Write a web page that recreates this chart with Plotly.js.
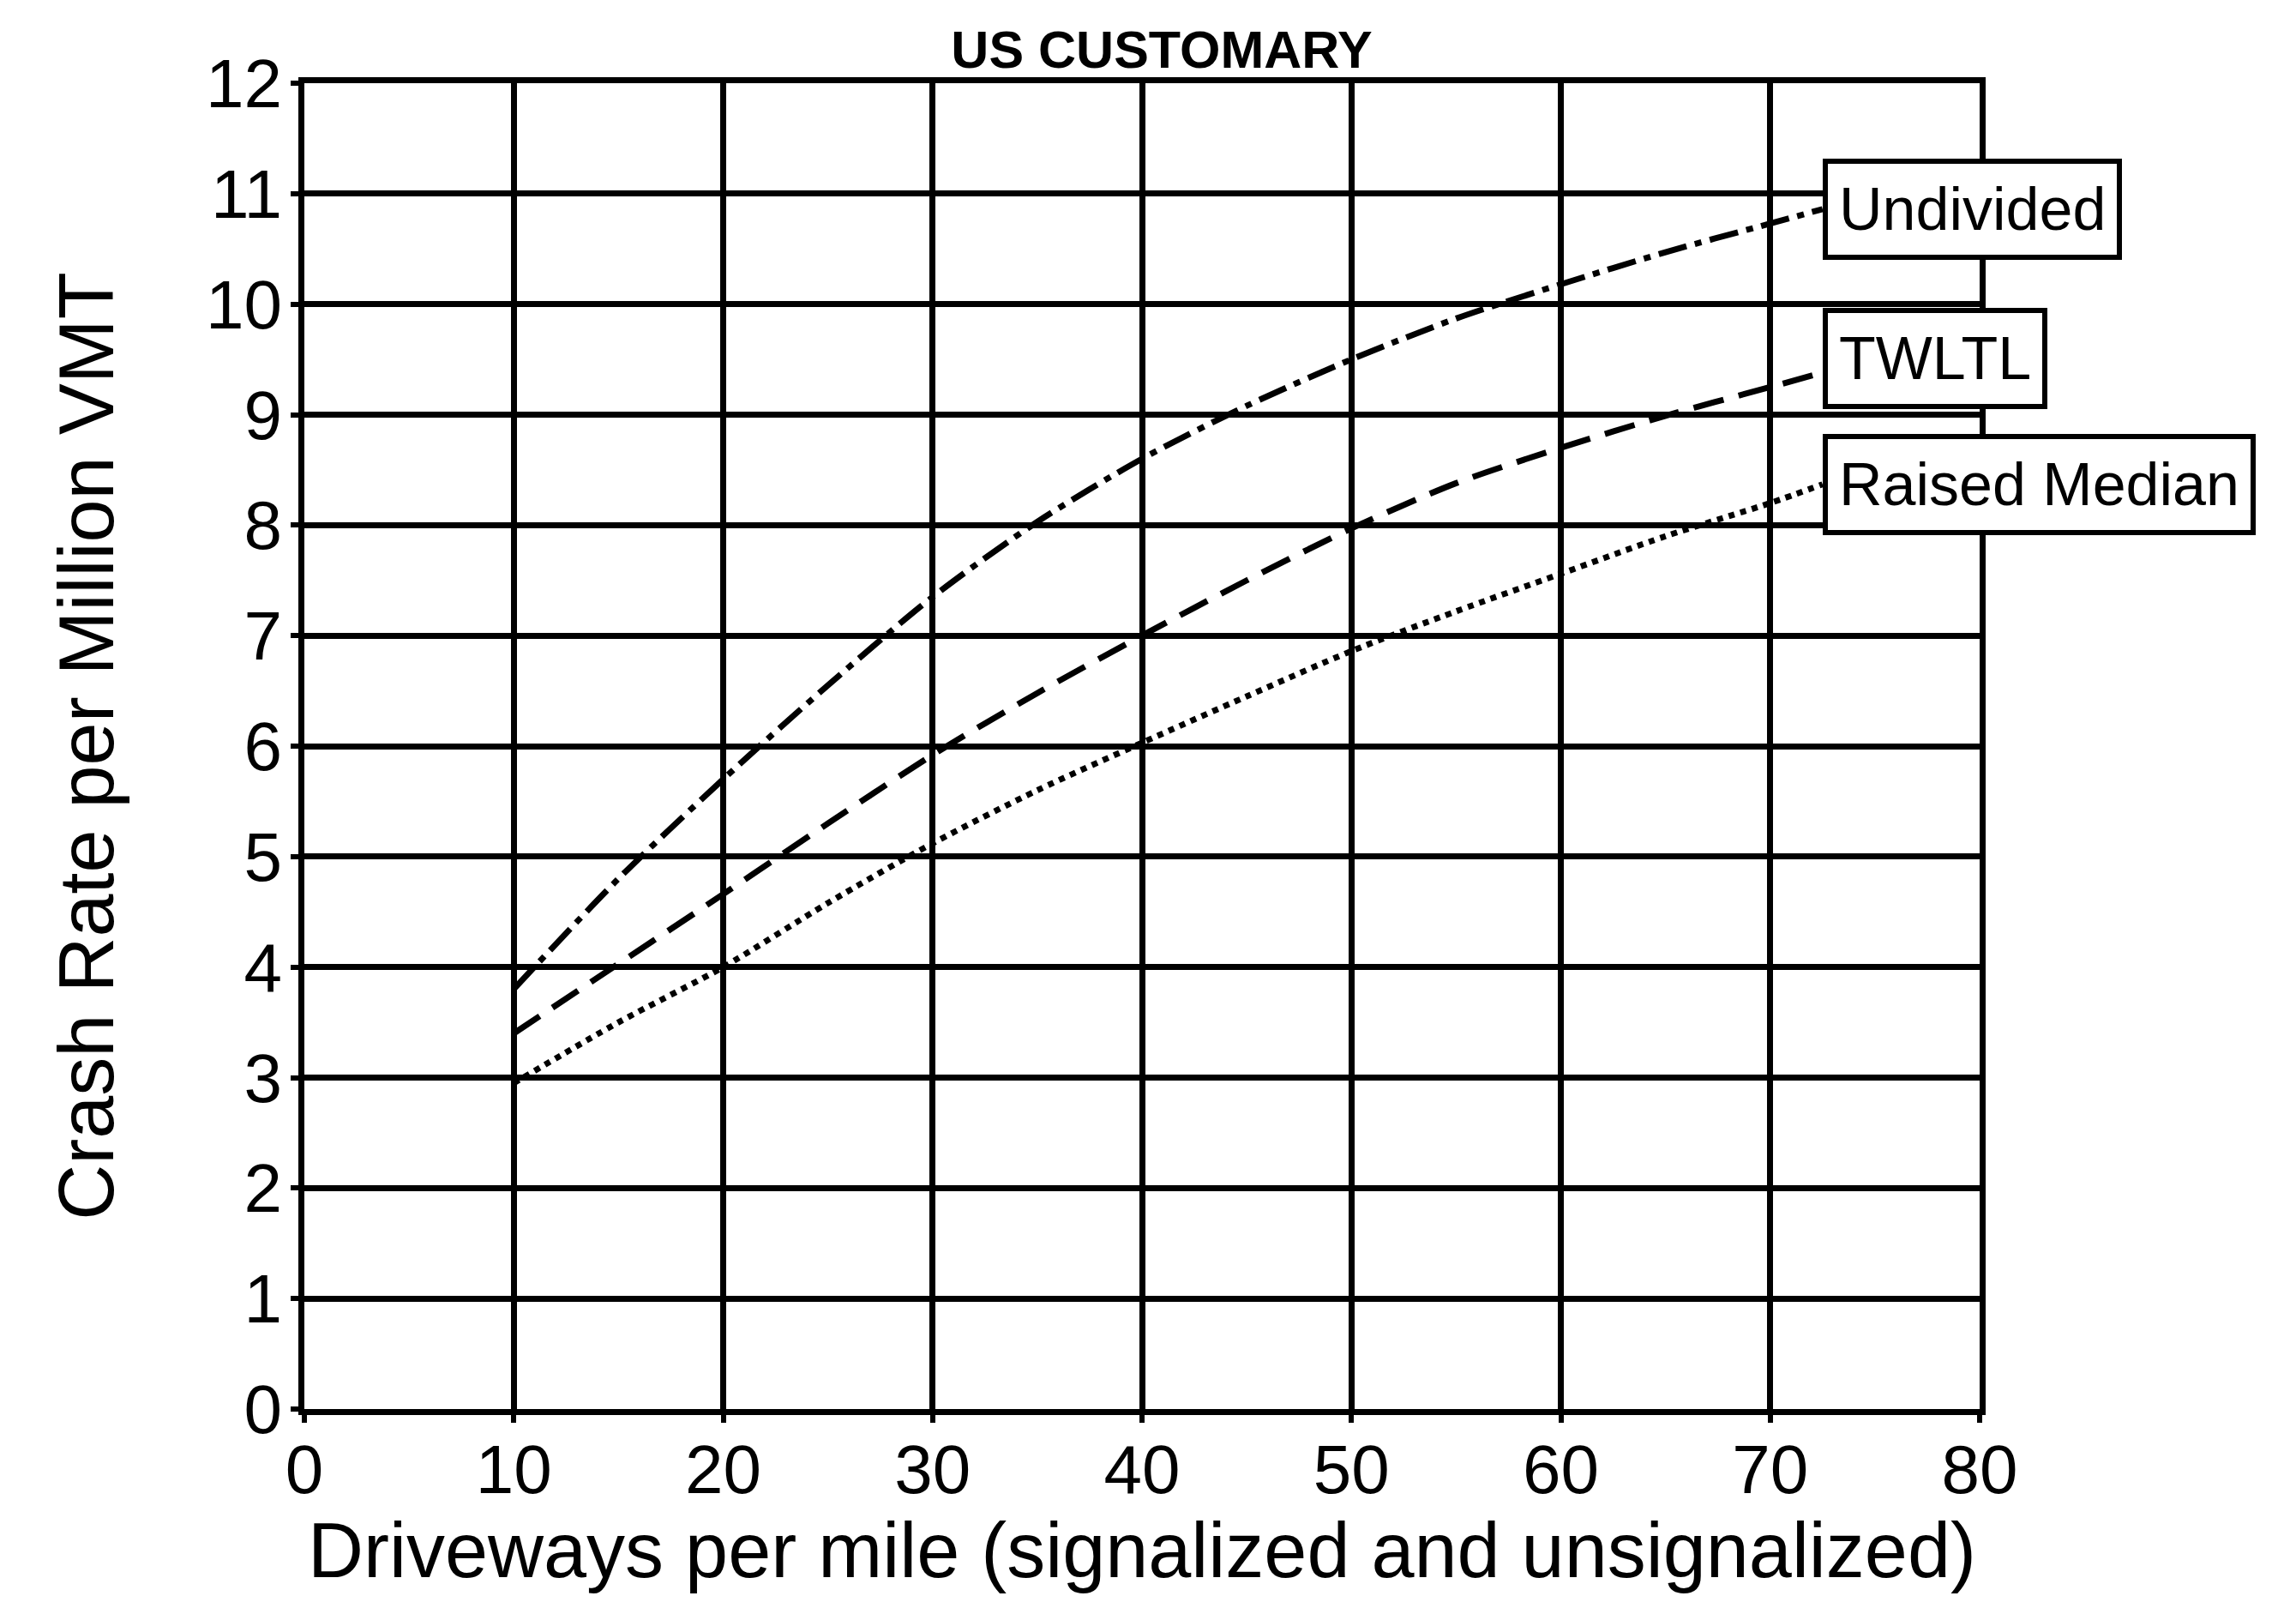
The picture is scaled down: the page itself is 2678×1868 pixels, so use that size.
<!DOCTYPE html>
<html>
<head>
<meta charset="utf-8">
<script src="https://cdn.plot.ly/plotly-3.0.1.min.js"></script>
<style>html,body{margin:0;padding:0;background:#fff;}</style>
</head>
<body>
<div id="chart" style="width:2678px;height:1868px;"></div>
<script>
const driveways = [10, 15, 20, 25, 30, 35, 40, 45, 50, 55, 60, 65, 70, 72.5];
const undivided = [3.8, 4.8, 5.7, 6.55, 7.35, 8.03, 8.6, 9.08, 9.5, 9.87, 10.18, 10.47, 10.73, 10.86];
const twltl     = [3.4, 4.03, 4.66, 5.3, 5.92, 6.48, 7.0, 7.5, 7.97, 8.38, 8.7, 8.99, 9.25, 9.38];
const raised    = [2.95, 3.5, 4.0, 4.58, 5.12, 5.6, 6.03, 6.45, 6.86, 7.22, 7.56, 7.9, 8.2, 8.37];
const seriesNames = ["Undivided", "TWLTL", "Raised Median"];
const labelY = [10.86, 9.51, 8.37];
const xTickVals = [0, 10, 20, 30, 40, 50, 60, 70, 80];
const yTickVals = [0, 1, 2, 3, 4, 5, 6, 7, 8, 9, 10, 11, 12];

const FONT = "Liberation Sans, Arial, Helvetica, sans-serif";
const ys = [undivided, twltl, raised];
const dashes = ["34px,10px,8px,10px", "36px,18px", "7px,7px"];

const traces = ys.map((y, i) => ({
  x: driveways, y: y, type: "scatter", mode: "lines", name: seriesNames[i],
  line: {color: "#000", width: 7, dash: dashes[i], shape: "spline", smoothing: 0.8},
  showlegend: false, hoverinfo: "skip"
}));

const annotations = seriesNames.map((n, i) => ({
  x: driveways[driveways.length - 1], y: labelY[i], xref: "x", yref: "y",
  text: n, showarrow: false, xanchor: "left", yanchor: "middle",
  font: {family: FONT, size: 70, color: "#000"},
  bgcolor: "#fff", bordercolor: "#000", borderwidth: 6, borderpad: 13,
  height: 80, align: "left"
}));

const axisCommon = {
  showgrid: true, gridcolor: "#000", gridwidth: 7,
  showline: true, linecolor: "#000", linewidth: 7, mirror: true,
  ticks: "outside", ticklen: 9, tickwidth: 6, tickcolor: "#000",
  tickfont: {family: FONT, size: 80, color: "#000"},
  zeroline: false
};

const layout = {
  width: 2678, height: 1868,
  paper_bgcolor: "#fff", plot_bgcolor: "#fff",
  margin: {l: 355, r: 369, t: 97, b: 225, pad: 0},
  font: {family: FONT, color: "#000"},
  title: {text: "<b>US CUSTOMARY</b>", font: {family: FONT, size: 61, color: "#000"},
          x: 0.506, xanchor: "center", y: 0.969, yanchor: "middle"},
  xaxis: Object.assign({}, axisCommon, {
    range: [0, 80], tickvals: xTickVals, ticktext: xTickVals.map(String),
    ticklabelstandoff: -14,
    title: {text: "Driveways per mile (signalized and unsignalized)",
            font: {family: FONT, size: 90, color: "#000"}, standoff: 10}
  }),
  yaxis: Object.assign({}, axisCommon, {
    range: [0, 12], tickvals: yTickVals, ticktext: yTickVals.map(String),
    ticklabelstandoff: -6,
    title: {text: "Crash Rate per Million VMT",
            font: {family: FONT, size: 90, color: "#000"}, standoff: 80}
  }),
  annotations: annotations
};

Plotly.newPlot("chart", traces, layout, {staticPlot: true, displayModeBar: false});
</script>
</body>
</html>
